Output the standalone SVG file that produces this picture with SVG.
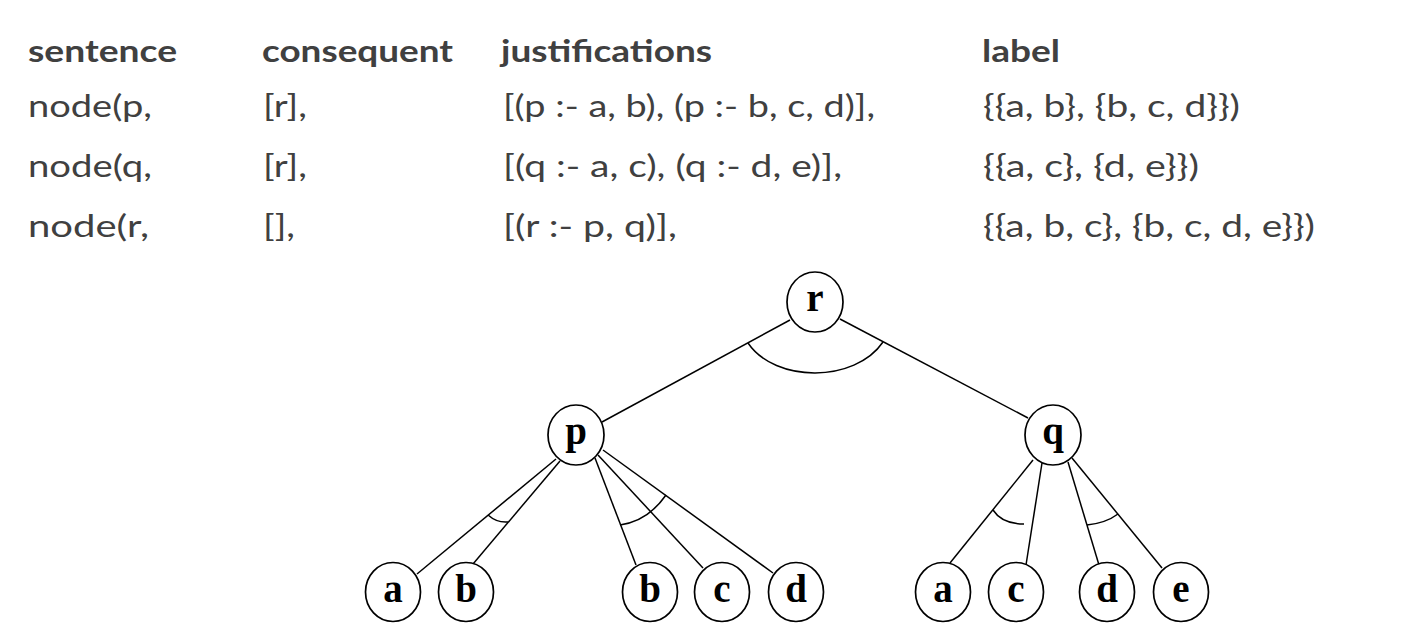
<svg xmlns="http://www.w3.org/2000/svg" width="1411" height="633" viewBox="0 0 1411 633">
<style>
.t{font-family:Lato,"Open Sans","Liberation Sans",sans-serif;font-size:31px;fill:#404040}
.h{font-weight:bold}
.e{stroke:#000;stroke-width:1.5;fill:none}
.n ellipse{fill:#fff;stroke:#000;stroke-width:1.7}
.n text{font-family:"Liberation Serif","Times New Roman",serif;font-weight:bold;font-size:39px;fill:#000;text-anchor:middle}
</style>
<rect width="1411" height="633" fill="#fff"/>
<g id="table">
<text class="t h" x="28" y="62" textLength="149" lengthAdjust="spacingAndGlyphs">sentence</text>
<text class="t h" x="262" y="62" textLength="191" lengthAdjust="spacingAndGlyphs">consequent</text>
<text class="t h" x="501" y="62" textLength="211" lengthAdjust="spacingAndGlyphs">justifications</text>
<text class="t h" x="982" y="62" textLength="78" lengthAdjust="spacingAndGlyphs">label</text>
<text class="t" x="28" y="117" textLength="124" lengthAdjust="spacingAndGlyphs">node(p,</text>
<text class="t" x="263" y="117" textLength="44" lengthAdjust="spacingAndGlyphs">[r],</text>
<text class="t" x="503" y="117" textLength="372" lengthAdjust="spacingAndGlyphs">[(p :- a, b), (p :- b, c, d)],</text>
<text class="t" x="983" y="117" textLength="257" lengthAdjust="spacingAndGlyphs">{{a, b}, {b, c, d}})</text>
<text class="t" x="28" y="177" textLength="124" lengthAdjust="spacingAndGlyphs">node(q,</text>
<text class="t" x="263" y="177" textLength="44" lengthAdjust="spacingAndGlyphs">[r],</text>
<text class="t" x="503" y="177" textLength="339" lengthAdjust="spacingAndGlyphs">[(q :- a, c), (q :- d, e)],</text>
<text class="t" x="983" y="177" textLength="216" lengthAdjust="spacingAndGlyphs">{{a, c}, {d, e}})</text>
<text class="t" x="28" y="237" textLength="121" lengthAdjust="spacingAndGlyphs">node(r,</text>
<text class="t" x="263" y="237" textLength="32" lengthAdjust="spacingAndGlyphs">[],</text>
<text class="t" x="503" y="237" textLength="174" lengthAdjust="spacingAndGlyphs">[(r :- p, q)],</text>
<text class="t" x="983" y="237" textLength="332" lengthAdjust="spacingAndGlyphs">{{a, b, c}, {b, c, d, e}})</text>
</g>
<g id="connectors" class="e">
<line x1="790" y1="320" x2="602" y2="422"/>
<line x1="840" y1="319" x2="1028" y2="418"/>
<path d="M748,343 C775,383 855,383 883,342"/>
<line x1="556" y1="459" x2="417" y2="574"/>
<line x1="560" y1="461" x2="473" y2="564"/>
<path d="M488,515 Q497,523 508,522"/>
<line x1="595" y1="458" x2="636" y2="565"/>
<line x1="598" y1="455" x2="703" y2="568"/>
<line x1="603" y1="450" x2="773" y2="573"/>
<path d="M620,525 Q648,521 666,495"/>
<line x1="1033" y1="460" x2="950" y2="563"/>
<line x1="1042" y1="463" x2="1026" y2="565"/>
<path d="M993,510 Q1002,524 1024,524"/>
<line x1="1068" y1="462" x2="1099" y2="565"/>
<line x1="1072" y1="458" x2="1162" y2="568"/>
<path d="M1087,525 Q1106,523 1118,514"/>
</g>
<g id="node-r" class="n"><ellipse cx="815" cy="302" rx="28" ry="30"/><text x="815" y="311">r</text></g>
<g id="node-p" class="n"><ellipse cx="576" cy="435" rx="28" ry="30"/><text x="576" y="444">p</text></g>
<g id="node-q" class="n"><ellipse cx="1053" cy="435" rx="28" ry="30"/><text x="1053" y="444">q</text></g>
<g id="node-a1" class="n"><ellipse cx="393" cy="592" rx="27.5" ry="29.5"/><text x="393" y="602">a</text></g>
<g id="node-b1" class="n"><ellipse cx="466" cy="592" rx="27.5" ry="29.5"/><text x="466" y="602">b</text></g>
<g id="node-b2" class="n"><ellipse cx="650" cy="592" rx="27.5" ry="29.5"/><text x="650" y="602">b</text></g>
<g id="node-c1" class="n"><ellipse cx="722" cy="592" rx="27.5" ry="29.5"/><text x="722" y="602">c</text></g>
<g id="node-d1" class="n"><ellipse cx="796" cy="592" rx="27.5" ry="29.5"/><text x="796" y="602">d</text></g>
<g id="node-a2" class="n"><ellipse cx="943" cy="592" rx="27.5" ry="29.5"/><text x="943" y="602">a</text></g>
<g id="node-c2" class="n"><ellipse cx="1016" cy="592" rx="27.5" ry="29.5"/><text x="1016" y="602">c</text></g>
<g id="node-d2" class="n"><ellipse cx="1107" cy="592" rx="27.5" ry="29.5"/><text x="1107" y="602">d</text></g>
<g id="node-e2" class="n"><ellipse cx="1181" cy="592" rx="27.5" ry="29.5"/><text x="1181" y="602">e</text></g>
</svg>
